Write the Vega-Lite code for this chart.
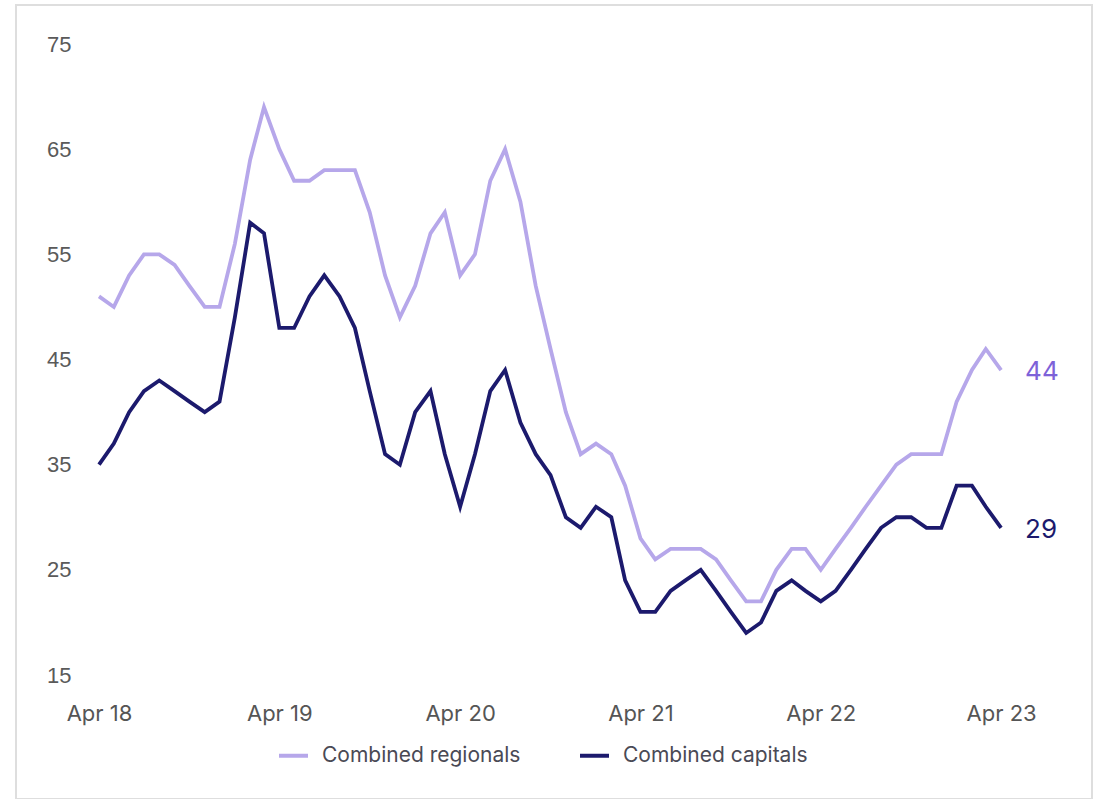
{
  "$schema": "https://vega.github.io/schema/vega-lite/v6.json",
  "width": 1076,
  "height": 794,
  "autosize": {"type": "none"},
  "padding": {"left": 16, "top": 5, "right": 7, "bottom": 0},
  "background": "white",
  "config": {
    "view": {"stroke": "#dedede", "strokeWidth": 2},
    "font": "Inter"
  },
  "data": {
    "values": [
      {"month": "2018-04-01", "Combined regionals": 51, "Combined capitals": 35},
      {"month": "2018-05-01", "Combined regionals": 50, "Combined capitals": 37},
      {"month": "2018-06-01", "Combined regionals": 53, "Combined capitals": 40},
      {"month": "2018-07-01", "Combined regionals": 55, "Combined capitals": 42},
      {"month": "2018-08-01", "Combined regionals": 55, "Combined capitals": 43},
      {"month": "2018-09-01", "Combined regionals": 54, "Combined capitals": 42},
      {"month": "2018-10-01", "Combined regionals": 52, "Combined capitals": 41},
      {"month": "2018-11-01", "Combined regionals": 50, "Combined capitals": 40},
      {"month": "2018-12-01", "Combined regionals": 50, "Combined capitals": 41},
      {"month": "2019-01-01", "Combined regionals": 56, "Combined capitals": 49},
      {"month": "2019-02-01", "Combined regionals": 64, "Combined capitals": 58},
      {"month": "2019-03-01", "Combined regionals": 69, "Combined capitals": 57},
      {"month": "2019-04-01", "Combined regionals": 65, "Combined capitals": 48},
      {"month": "2019-05-01", "Combined regionals": 62, "Combined capitals": 48},
      {"month": "2019-06-01", "Combined regionals": 62, "Combined capitals": 51},
      {"month": "2019-07-01", "Combined regionals": 63, "Combined capitals": 53},
      {"month": "2019-08-01", "Combined regionals": 63, "Combined capitals": 51},
      {"month": "2019-09-01", "Combined regionals": 63, "Combined capitals": 48},
      {"month": "2019-10-01", "Combined regionals": 59, "Combined capitals": 42},
      {"month": "2019-11-01", "Combined regionals": 53, "Combined capitals": 36},
      {"month": "2019-12-01", "Combined regionals": 49, "Combined capitals": 35},
      {"month": "2020-01-01", "Combined regionals": 52, "Combined capitals": 40},
      {"month": "2020-02-01", "Combined regionals": 57, "Combined capitals": 42},
      {"month": "2020-03-01", "Combined regionals": 59, "Combined capitals": 36},
      {"month": "2020-04-01", "Combined regionals": 53, "Combined capitals": 31},
      {"month": "2020-05-01", "Combined regionals": 55, "Combined capitals": 36},
      {"month": "2020-06-01", "Combined regionals": 62, "Combined capitals": 42},
      {"month": "2020-07-01", "Combined regionals": 65, "Combined capitals": 44},
      {"month": "2020-08-01", "Combined regionals": 60, "Combined capitals": 39},
      {"month": "2020-09-01", "Combined regionals": 52, "Combined capitals": 36},
      {"month": "2020-10-01", "Combined regionals": 46, "Combined capitals": 34},
      {"month": "2020-11-01", "Combined regionals": 40, "Combined capitals": 30},
      {"month": "2020-12-01", "Combined regionals": 36, "Combined capitals": 29},
      {"month": "2021-01-01", "Combined regionals": 37, "Combined capitals": 31},
      {"month": "2021-02-01", "Combined regionals": 36, "Combined capitals": 30},
      {"month": "2021-03-01", "Combined regionals": 33, "Combined capitals": 24},
      {"month": "2021-04-01", "Combined regionals": 28, "Combined capitals": 21},
      {"month": "2021-05-01", "Combined regionals": 26, "Combined capitals": 21},
      {"month": "2021-06-01", "Combined regionals": 27, "Combined capitals": 23},
      {"month": "2021-07-01", "Combined regionals": 27, "Combined capitals": 24},
      {"month": "2021-08-01", "Combined regionals": 27, "Combined capitals": 25},
      {"month": "2021-09-01", "Combined regionals": 26, "Combined capitals": 23},
      {"month": "2021-10-01", "Combined regionals": 24, "Combined capitals": 21},
      {"month": "2021-11-01", "Combined regionals": 22, "Combined capitals": 19},
      {"month": "2021-12-01", "Combined regionals": 22, "Combined capitals": 20},
      {"month": "2022-01-01", "Combined regionals": 25, "Combined capitals": 23},
      {"month": "2022-02-01", "Combined regionals": 27, "Combined capitals": 24},
      {"month": "2022-03-01", "Combined regionals": 27, "Combined capitals": 23},
      {"month": "2022-04-01", "Combined regionals": 25, "Combined capitals": 22},
      {"month": "2022-05-01", "Combined regionals": 27, "Combined capitals": 23},
      {"month": "2022-06-01", "Combined regionals": 29, "Combined capitals": 25},
      {"month": "2022-07-01", "Combined regionals": 31, "Combined capitals": 27},
      {"month": "2022-08-01", "Combined regionals": 33, "Combined capitals": 29},
      {"month": "2022-09-01", "Combined regionals": 35, "Combined capitals": 30},
      {"month": "2022-10-01", "Combined regionals": 36, "Combined capitals": 30},
      {"month": "2022-11-01", "Combined regionals": 36, "Combined capitals": 29},
      {"month": "2022-12-01", "Combined regionals": 36, "Combined capitals": 29},
      {"month": "2023-01-01", "Combined regionals": 41, "Combined capitals": 33},
      {"month": "2023-02-01", "Combined regionals": 44, "Combined capitals": 33},
      {"month": "2023-03-01", "Combined regionals": 46, "Combined capitals": 31},
      {"month": "2023-04-01", "Combined regionals": 44, "Combined capitals": 29}
    ]
  },
  "transform": [
    {"fold": ["Combined regionals", "Combined capitals"], "as": ["series", "value"]}
  ],
  "encoding": {
    "x": {
      "field": "month",
      "type": "temporal",
      "title": null,
      "scale": {
        "type": "utc",
        "domain": [
          {"year": 2017, "month": 10, "date": 15, "utc": true},
          {"year": 2023, "month": 10, "date": 2, "utc": true}
        ]
      },
      "axis": {
        "orient": "bottom",
        "offset": -109,
        "values": [
          {"year": 2018, "month": 4, "date": 1, "utc": true},
          {"year": 2019, "month": 4, "date": 1, "utc": true},
          {"year": 2020, "month": 4, "date": 1, "utc": true},
          {"year": 2021, "month": 4, "date": 1, "utc": true},
          {"year": 2022, "month": 4, "date": 1, "utc": true},
          {"year": 2023, "month": 4, "date": 1, "utc": true}
        ],
        "format": "%b %y",
        "domain": false,
        "ticks": false,
        "tickSize": 0,
        "grid": false,
        "labelPadding": 13,
        "labelFont": "Inter",
        "labelFontSize": 22,
        "labelColor": "#555555",
        "labelFlush": false,
        "labelOverlap": false
      }
    },
    "y": {
      "field": "value",
      "type": "quantitative",
      "title": null,
      "scale": {"domain": [3.21, 78.71], "nice": false, "zero": false},
      "axis": {
        "orient": "left",
        "offset": -60,
        "values": [15, 25, 35, 45, 55, 65, 75],
        "domain": false,
        "ticks": false,
        "tickSize": 0,
        "grid": false,
        "labelPadding": 5,
        "labelFont": "Liberation Sans",
        "labelFontSize": 22,
        "labelColor": "#5a5a5a"
      }
    }
  },
  "layer": [
    {
      "mark": {"type": "line", "strokeWidth": 3.8, "strokeJoin": "miter"},
      "encoding": {
        "color": {
          "field": "series",
          "type": "nominal",
          "sort": ["Combined regionals", "Combined capitals"],
          "scale": {
            "domain": ["Combined regionals", "Combined capitals"],
            "range": ["#b6a7ea", "#1c1a6d"]
          },
          "legend": {
            "title": null,
            "orient": "none",
            "direction": "horizontal",
            "legendX": 261,
            "legendY": 734,
            "symbolType": "stroke",
            "symbolSize": 841,
            "symbolStrokeWidth": 4,
            "labelOffset": 12,
            "columnPadding": 51,
            "labelLimit": 400,
            "labelFont": "Inter",
            "labelFontSize": 21,
            "labelColor": "#4a4a55"
          }
        }
      }
    },
    {
      "mark": {"type": "text", "align": "left", "baseline": "middle", "dx": 24, "dy": 2, "fontSize": 26, "font": "Inter"},
      "encoding": {
        "x": {"field": "month", "type": "temporal", "aggregate": "max"},
        "y": {"field": "value", "type": "quantitative", "aggregate": {"argmax": "month"}},
        "detail": {"field": "series", "type": "nominal"},
        "text": {"field": "value", "type": "quantitative", "aggregate": {"argmax": "month"}},
        "fill": {
          "field": "series",
          "type": "nominal",
          "scale": {
            "domain": ["Combined regionals", "Combined capitals"],
            "range": ["#7d62d8", "#1c1a6d"]
          },
          "legend": null
        }
      }
    }
  ]
}
